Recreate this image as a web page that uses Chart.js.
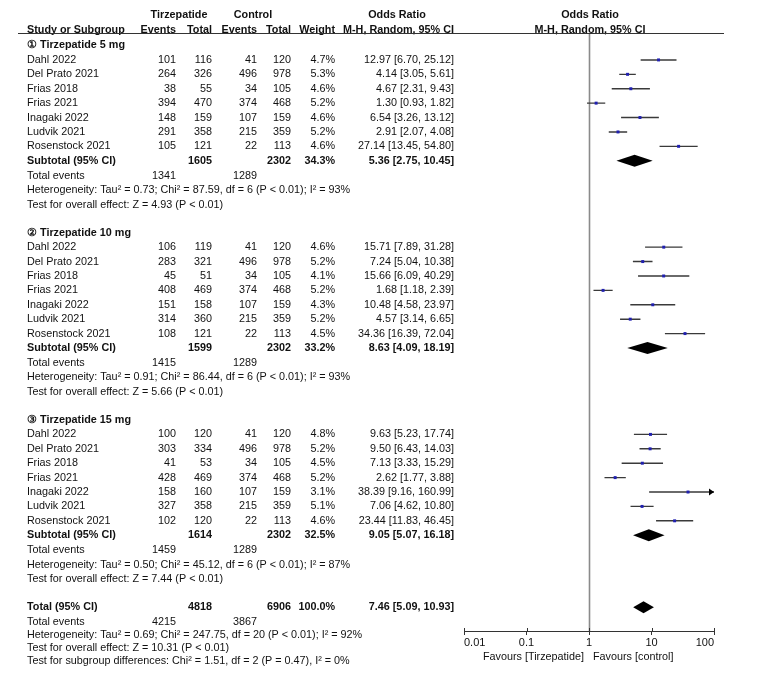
<!DOCTYPE html>
<html>
<head>
<meta charset="utf-8">
<script src="https://cdn.jsdelivr.net/npm/chart.js@4.4.1/dist/chart.umd.min.js"></script>
<style>
  html, body { margin: 0; padding: 0; background: #fff; }
  #wrap { width: 768px; height: 679px; position: relative; }
</style>
</head>
<body>
<div id="wrap"><canvas id="forest"></canvas></div>
<script>
// ---- data ----
const studies = ['Dahl 2022', 'Del Prato 2021', 'Frias 2018', 'Frias 2021', 'Inagaki 2022', 'Ludvik 2021', 'Rosenstock 2021'];
const groupTitles = ['\u2460 Tirzepatide 5 mg', '\u2461 Tirzepatide 10 mg', '\u2462 Tirzepatide 15 mg'];

const ctrlEvents = [41, 496, 34, 374, 107, 215, 22];
const ctrlTotal = [120, 978, 105, 468, 159, 359, 113];

const tirzEvents5 = [101, 264, 38, 394, 148, 291, 105];
const tirzTotal5 = [116, 326, 55, 470, 159, 358, 121];
const weight5 = [4.7, 5.3, 4.6, 5.2, 4.6, 5.2, 4.6];
const or5 = [12.97, 4.14, 4.67, 1.30, 6.54, 2.91, 27.14];
const lower5 = [6.70, 3.05, 2.31, 0.93, 3.26, 2.07, 13.45];
const upper5 = [25.12, 5.61, 9.43, 1.82, 13.12, 4.08, 54.80];

const tirzEvents10 = [106, 283, 45, 408, 151, 314, 108];
const tirzTotal10 = [119, 321, 51, 469, 158, 360, 121];
const weight10 = [4.6, 5.2, 4.1, 5.2, 4.3, 5.2, 4.5];
const or10 = [15.71, 7.24, 15.66, 1.68, 10.48, 4.57, 34.36];
const lower10 = [7.89, 5.04, 6.09, 1.18, 4.58, 3.14, 16.39];
const upper10 = [31.28, 10.38, 40.29, 2.39, 23.97, 6.65, 72.04];

const tirzEvents15 = [100, 303, 41, 428, 158, 327, 102];
const tirzTotal15 = [120, 334, 53, 469, 160, 358, 120];
const weight15 = [4.8, 5.2, 4.5, 5.2, 3.1, 5.1, 4.6];
const or15 = [9.63, 9.50, 7.13, 2.62, 38.39, 7.06, 23.44];
const lower15 = [5.23, 6.43, 3.33, 1.77, 9.16, 4.62, 11.83];
const upper15 = [17.74, 14.03, 15.29, 3.88, 160.99, 10.80, 46.45];

// subtotals per dose group: [tirz events, tirz total, ctrl events, ctrl total]
const subCounts = [[1341, 1605, 1289, 2302], [1415, 1599, 1289, 2302], [1459, 1614, 1289, 2302]];
const subWeight = [34.3, 33.2, 32.5];
const subOr = [5.36, 8.63, 9.05];
const subLower = [2.75, 4.09, 5.07];
const subUpper = [10.45, 18.19, 16.18];
const subHet = [
  'Heterogeneity: Tau\u00b2 = 0.73; Chi\u00b2 = 87.59, df = 6 (P < 0.01); I\u00b2 = 93%',
  'Heterogeneity: Tau\u00b2 = 0.91; Chi\u00b2 = 86.44, df = 6 (P < 0.01); I\u00b2 = 93%',
  'Heterogeneity: Tau\u00b2 = 0.50; Chi\u00b2 = 45.12, df = 6 (P < 0.01); I\u00b2 = 87%'
];
const subTest = ['Test for overall effect: Z = 4.93 (P < 0.01)', 'Test for overall effect: Z = 5.66 (P < 0.01)', 'Test for overall effect: Z = 7.44 (P < 0.01)'];

const totalCounts = [4215, 4818, 3867, 6906];
const totalOr = [7.46, 5.09, 10.93];
const totalLines = [
  'Heterogeneity: Tau\u00b2 = 0.69; Chi\u00b2 = 247.75, df = 20 (P < 0.01); I\u00b2 = 92%',
  'Test for overall effect: Z = 10.31 (P < 0.01)',
  'Test for subgroup differences: Chi\u00b2 = 1.51, df = 2 (P = 0.47), I\u00b2 = 0%'
];

const tickValues = [0.01, 0.1, 1, 10, 100];
const tickLabels = ['0.01', '0.1', '1', '10', '100'];

// ---- grouping ----
const groups = [
  { ev: tirzEvents5, tot: tirzTotal5, w: weight5, or: or5, lo: lower5, hi: upper5 },
  { ev: tirzEvents10, tot: tirzTotal10, w: weight10, or: or10, lo: lower10, hi: upper10 },
  { ev: tirzEvents15, tot: tirzTotal15, w: weight15, or: or15, lo: lower15, hi: upper15 }
];
const ROWS_PER_GROUP = 13;
const TOTAL_ROW = 39;

const ciPoints = [];
const estPoints = [];
groups.forEach((g, gi) => {
  studies.forEach((s, si) => {
    const row = gi * ROWS_PER_GROUP + 1 + si;
    ciPoints.push({ x: g.lo[si], y: row }, { x: g.hi[si], y: row }, { x: null, y: null });
    estPoints.push({ x: g.or[si], y: row });
  });
});

const FONT = '"Liberation Sans", Arial, sans-serif';
const fmt = v => v.toFixed(2);
const orText = (o, l, h) => `${fmt(o)} [${fmt(l)}, ${fmt(h)}]`;

const forestPlugin = {
  id: 'forestPlugin',
  beforeDatasetsDraw(chart) {
    const { ctx, chartArea, scales: { x } } = chart;
    const px = Math.round(x.getPixelForValue(1)) + 0.5;
    ctx.save();
    ctx.strokeStyle = '#8a8a8a';
    ctx.lineWidth = 1.6;
    ctx.beginPath();
    ctx.moveTo(px, chartArea.top);
    ctx.lineTo(px, chartArea.bottom);
    ctx.stroke();
    ctx.restore();
  },
  afterDatasetsDraw(chart) {
    const { ctx, chartArea, scales: { x, y } } = chart;
    ctx.save();
    ctx.fillStyle = '#000';
    const diamond = (o, l, h, row) => {
      const cy = y.getPixelForValue(row);
      ctx.beginPath();
      ctx.moveTo(x.getPixelForValue(l), cy);
      ctx.lineTo(x.getPixelForValue(o), cy - 6);
      ctx.lineTo(x.getPixelForValue(h), cy);
      ctx.lineTo(x.getPixelForValue(o), cy + 6);
      ctx.closePath();
      ctx.fill();
    };
    groups.forEach((g, gi) => diamond(subOr[gi], subLower[gi], subUpper[gi], gi * ROWS_PER_GROUP + 8));
    diamond(totalOr[0], totalOr[1], totalOr[2], TOTAL_ROW);

    // arrows for intervals running past the axis
    groups.forEach((g, gi) => {
      g.hi.forEach((h, si) => {
        if (h > x.max) {
          const cy = y.getPixelForValue(gi * ROWS_PER_GROUP + 1 + si);
          const ex = chartArea.right;
          ctx.beginPath();
          ctx.moveTo(ex, cy);
          ctx.lineTo(ex - 5, cy - 3.5);
          ctx.lineTo(ex - 5, cy + 3.5);
          ctx.closePath();
          ctx.fill();
        }
      });
    });

    // tick marks crossing the axis line
    ctx.strokeStyle = '#333';
    ctx.lineWidth = 1;
    x.ticks.forEach(t => {
      const tx = Math.round(x.getPixelForValue(t.value)) + 0.5;
      ctx.beginPath();
      ctx.moveTo(tx, chartArea.bottom - 3);
      ctx.lineTo(tx, chartArea.bottom);
      ctx.stroke();
    });
    ctx.restore();
  },
  afterDraw(chart) {
    const { ctx, chartArea, scales: { x, y } } = chart;
    const rowY = r => y.getPixelForValue(r);
    const reg = '10.8px ' + FONT;
    const bold = 'bold 10.8px ' + FONT;
    const cols = { label: 27, tEv: 176, tTot: 212, cEv: 257, cTot: 291, w: 335, or: 454 };
    const text = (s, px, py, align, font) => {
      ctx.font = font || reg;
      ctx.textAlign = align || 'left';
      ctx.fillText(s, px, py);
    };
    ctx.save();
    ctx.fillStyle = '#111';
    ctx.textBaseline = 'middle';

    // header
    const h1 = rowY(-2.12), h2 = rowY(-1.08);
    text('Tirzepatide', 179, h1, 'center', bold);
    text('Control', 253, h1, 'center', bold);
    text('Odds Ratio', 397, h1, 'center', bold);
    text('Odds Ratio', x.getPixelForValue(1) + 1, h1, 'center', bold);
    text('Study or Subgroup', cols.label, h2, 'left', bold);
    text('Events', cols.tEv, h2, 'right', bold);
    text('Total', cols.tTot, h2, 'right', bold);
    text('Events', cols.cEv, h2, 'right', bold);
    text('Total', cols.cTot, h2, 'right', bold);
    text('Weight', cols.w, h2, 'right', bold);
    text('M-H, Random, 95% CI', cols.or, h2, 'right', bold);
    text('M-H, Random, 95% CI', x.getPixelForValue(1) + 1, h2, 'center', bold);
    ctx.strokeStyle = '#333';
    ctx.lineWidth = 1;
    ctx.beginPath();
    ctx.moveTo(18, chartArea.top - 0.5);
    ctx.lineTo(724, chartArea.top - 0.5);
    ctx.stroke();

    groups.forEach((g, gi) => {
      const base = gi * ROWS_PER_GROUP;
      text(groupTitles[gi], cols.label, rowY(base), 'left', bold);
      studies.forEach((s, si) => {
        const ry = rowY(base + 1 + si);
        text(s, cols.label, ry);
        text(String(g.ev[si]), cols.tEv, ry, 'right');
        text(String(g.tot[si]), cols.tTot, ry, 'right');
        text(String(ctrlEvents[si]), cols.cEv, ry, 'right');
        text(String(ctrlTotal[si]), cols.cTot, ry, 'right');
        text(g.w[si].toFixed(1) + '%', cols.w, ry, 'right');
        text(orText(g.or[si], g.lo[si], g.hi[si]), cols.or, ry, 'right');
      });
      const sy = rowY(base + 8);
      text('Subtotal (95% CI)', cols.label, sy, 'left', bold);
      text(String(subCounts[gi][1]), cols.tTot, sy, 'right', bold);
      text(String(subCounts[gi][3]), cols.cTot, sy, 'right', bold);
      text(subWeight[gi].toFixed(1) + '%', cols.w, sy, 'right', bold);
      text(orText(subOr[gi], subLower[gi], subUpper[gi]), cols.or, sy, 'right', bold);
      const ey = rowY(base + 9.05);
      text('Total events', cols.label, ey);
      text(String(subCounts[gi][0]), cols.tEv, ey, 'right');
      text(String(subCounts[gi][2]), cols.cEv, ey, 'right');
      text(subHet[gi], cols.label, rowY(base + 10.05));
      text(subTest[gi], cols.label, rowY(base + 11.05));
    });

    const ty = rowY(TOTAL_ROW);
    text('Total (95% CI)', cols.label, ty, 'left', bold);
    text(String(totalCounts[1]), cols.tTot, ty, 'right', bold);
    text(String(totalCounts[3]), cols.cTot, ty, 'right', bold);
    text('100.0%', cols.w, ty, 'right', bold);
    text(orText(totalOr[0], totalOr[1], totalOr[2]), cols.or, ty, 'right', bold);
    const tey = rowY(TOTAL_ROW + 1.03);
    text('Total events', cols.label, tey);
    text(String(totalCounts[0]), cols.tEv, tey, 'right');
    text(String(totalCounts[2]), cols.cEv, tey, 'right');
    text(totalLines[0], cols.label, rowY(TOTAL_ROW + 1.9));
    text(totalLines[1], cols.label, rowY(TOTAL_ROW + 2.83));
    text(totalLines[2], cols.label, rowY(TOTAL_ROW + 3.74));

    // favours labels under the axis
    const fy = chartArea.bottom + 26;
    const one = x.getPixelForValue(1);
    text('Favours [Tirzepatide]', one - 5, fy, 'right');
    text('Favours [control]', one + 4, fy, 'left');
    ctx.restore();
  }
};

new Chart(document.getElementById('forest'), {
  type: 'scatter',
  data: {
    datasets: [
      {
        label: '95% CI',
        data: ciPoints,
        showLine: true,
        spanGaps: false,
        borderColor: '#3a3a3a',
        borderWidth: 1.4,
        pointRadius: 0,
        order: 2
      },
      {
        label: 'Odds ratio',
        data: estPoints,
        pointStyle: 'rect',
        pointRadius: 2.1,
        pointBorderWidth: 0,
        pointBackgroundColor: '#2020b0',
        pointBorderColor: '#2020b0',
        order: 1
      }
    ]
  },
  options: {
    responsive: true,
    maintainAspectRatio: false,
    animation: false,
    layout: { padding: { left: 464, right: 54, top: 34, bottom: 18 } },
    plugins: { legend: { display: false }, tooltip: { enabled: false } },
    scales: {
      x: {
        type: 'logarithmic',
        min: 0.01,
        max: 100,
        afterBuildTicks: axis => { axis.ticks = tickValues.map(v => ({ value: v })); },
        afterFit: scale => { scale.height = 30; },
        border: { display: true, color: '#333', width: 1 },
        grid: { display: true, drawOnChartArea: false, tickLength: 4, color: '#333' },
        ticks: {
          autoSkip: false,
          maxRotation: 0,
          align: 'inner',
          padding: 1,
          color: '#111',
          font: { family: FONT, size: 11 },
          callback: (v, i) => tickLabels[i]
        }
      },
      y: {
        type: 'linear',
        reverse: true,
        min: -0.8,
        max: 40.65,
        display: false
      }
    }
  },
  plugins: [forestPlugin]
});
</script>
</body>
</html>
